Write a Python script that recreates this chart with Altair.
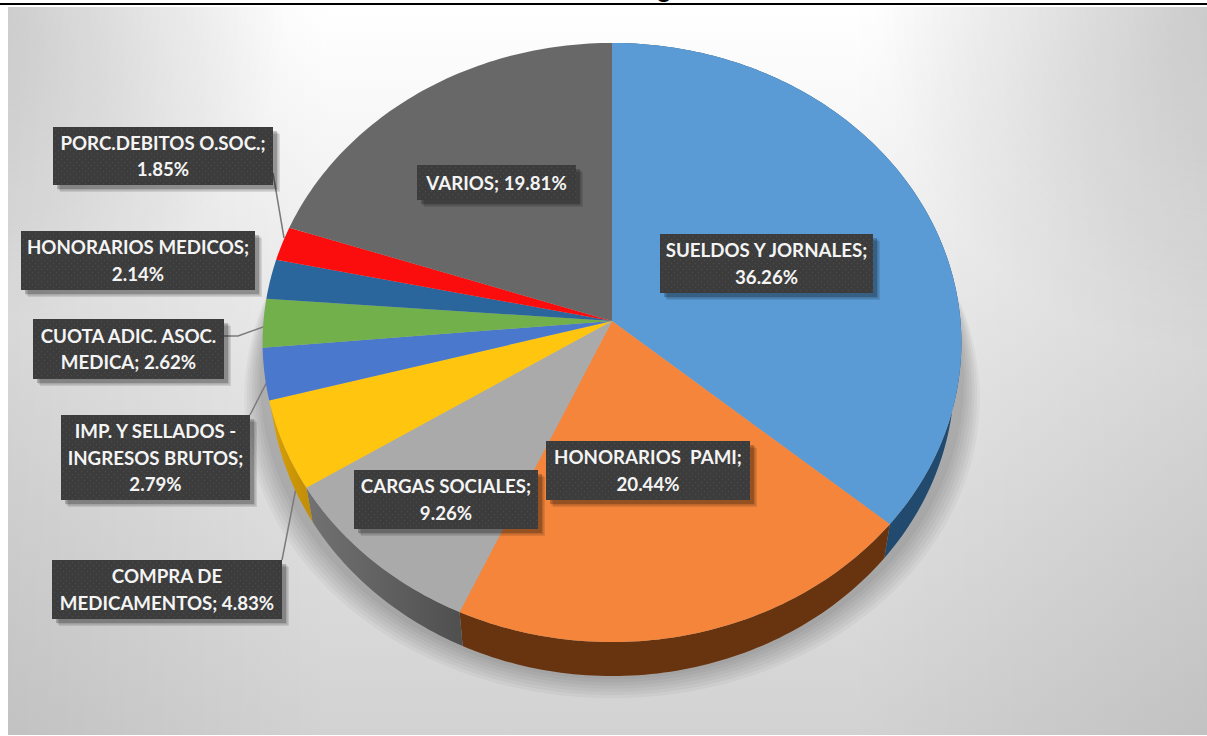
import math
import altair as alt
import pandas as pd

# Expense shares, clockwise from twelve o'clock
categories = ["SUELDOS Y JORNALES", "HONORARIOS  PAMI", "CARGAS SOCIALES", "COMPRA DE MEDICAMENTOS",
              "IMP. Y SELLADOS - INGRESOS BRUTOS", "CUOTA ADIC. ASOC. MEDICA", "HONORARIOS MEDICOS",
              "PORC.DEBITOS O.SOC.", "VARIOS"]
shares = [36.26, 20.44, 9.26, 4.83, 2.79, 2.62, 2.14, 1.85, 19.81]
face_colors = ["#5b9bd5", "#f4853a", "#aaaaaa", "#ffc50f", "#4a78cc", "#72b04b", "#2a659c", "#fb0d0d", "#686868"]

# Wrapped callout text for each slice
label_lines = [
    ["SUELDOS Y JORNALES;", "36.26%"],
    ["HONORARIOS\u00a0\u00a0PAMI;", "20.44%"],
    ["CARGAS SOCIALES;", "9.26%"],
    ["COMPRA DE", "MEDICAMENTOS; 4.83%"],
    ["IMP. Y SELLADOS -", "INGRESOS BRUTOS;", "2.79%"],
    ["CUOTA ADIC. ASOC.", "MEDICA; 2.62%"],
    ["HONORARIOS MEDICOS;", "2.14%"],
    ["PORC.DEBITOS O.SOC.;", "1.85%"],
    ["VARIOS; 19.81%"],
]
# Callout boxes: left, right, top, bottom
label_boxes = [
    (660, 873, 234, 293), (546, 750, 441, 500), (354, 538, 470, 529), (52, 282, 560, 619),
    (61, 250, 415, 500), (33, 224, 319, 379), (21, 255, 231, 290), (53, 273, 127, 185), (417, 576, 165, 200),
]
leader_paths = [
    [(273, 173), (284, 238)],
    [(224, 336), (238, 336), (266, 326)],
    [(250, 415), (272, 372)],
    [(282, 560), (296, 488)],
]

W, H = 1207, 736
CX, CY = 612.0, 321.0
RX, RY, TILT = 348.5, 298.0, 0.0718
DEPTH, RIM_SHRINK = 34.0, 0.98
PROJ = dict(type="identity", scale=1, translate=[0, 0])


def rim(frac):
    # Point on the tilted pie's edge at a clockwise fraction of the full turn
    a = 2 * math.pi * frac
    u, v = math.sin(a), math.cos(a)
    d = 1 + TILT * v
    return CX + RX * u / d, CY - RY * v / d


def lower(p):
    return CX + (p[0] - CX) * RIM_SHRINK, p[1] + DEPTH


def arc(f0, f1):
    n = max(2, int((f1 - f0) * 360))
    return [rim(f0 + (f1 - f0) * i / n) for i in range(n + 1)]


def feature(points, **props):
    ring = [list(p) for p in points]
    if ring[0] != ring[-1]:
        ring.append(ring[0])
    return {"type": "Feature", "properties": props, "geometry": {"type": "Polygon", "coordinates": [ring]}}


def fade(direction, *colors):
    # Evenly spaced linear gradient, horizontal or vertical
    x2, y2 = (1, 0) if direction == "h" else (0, 1)
    stops = [alt.GradientStop(offset=i / (len(colors) - 1), color=c) for i, c in enumerate(colors)]
    return alt.LinearGradient(gradient="linear", stops=stops, x1=0, x2=x2, y1=0, y2=y2)


def corner_glow(cx, cy, reach, shade):
    # Radial shade that dies away from one corner of its rectangle
    stops = [alt.GradientStop(offset=0, color=shade), alt.GradientStop(offset=1, color="rgba(0,0,0,0)")]
    return alt.RadialGradient(gradient="radial", stops=stops, x1=cx, y1=cy, r1=0, x2=cx, y2=cy, r2=reach)


x_px = alt.Scale(domain=[0, W], range=[0, W])
y_px = alt.Scale(domain=[0, H], range=[0, H])


def X(f):
    return alt.X(f, type="quantitative", scale=x_px, axis=None)


def Y(f):
    return alt.Y(f, type="quantitative", scale=y_px, axis=None)


def rect_enc():
    return dict(x=X("x0"), x2="x1", y=Y("y0"), y2="y1")


layers = []

# Page furniture: the panel with its soft gradient, the heading rule, the clipped heading
panel = pd.DataFrame({"x0": [8], "x1": [W], "y0": [7], "y1": [735]})
layers.append(alt.Chart(panel).mark_rect(color=fade("v", "#ffffff", "#efefef", "#e0e0e0", "#d2d2d2")).encode(**rect_enc()))
for x0, x1, left_shade, right_shade in [(8, 330, "rgba(0,0,0,0.08)", "rgba(0,0,0,0)"),
                                        (850, W, "rgba(0,0,0,0)", "rgba(0,0,0,0.08)")]:
    band = pd.DataFrame({"x0": [x0], "x1": [x1], "y0": [7], "y1": [735]})
    layers.append(alt.Chart(band).mark_rect(color=fade("h", left_shade, right_shade)).encode(**rect_enc()))
for x0, x1, cx, reach in [(8, 330, 0, 0.8), (850, W, 1, 0.88)]:
    corner = pd.DataFrame({"x0": [x0], "x1": [x1], "y0": [7], "y1": [400]})
    layers.append(alt.Chart(corner).mark_rect(color=corner_glow(cx, 0, reach, "rgba(0,0,0,0.14)")).encode(**rect_enc()))

layers.append(alt.Chart(pd.DataFrame({"x0": [0], "x1": [W], "y0": [3], "y1": [5]})).mark_rect(color="#000000")
              .encode(**rect_enc()))
layers.append(alt.Chart(pd.DataFrame({"x": [664], "y": [-3], "t": ["g"]}))
              .mark_text(font="Liberation Sans", fontWeight="bold", fontSize=26, color="#000000", baseline="alphabetic")
              .encode(x=X("x"), y=Y("y"), text="t:N"))

# Soft shadow under the pie, built up from widening translucent outlines
outline = arc(0, 1)
for i in range(7):
    sx = 1.0 + 0.0075 * (i + 1)
    pts = [(CX + (p[0] - CX) * sx, p[1] + DEPTH + 3 + 3.2 * i) for p in outline]
    layers.append(alt.Chart(alt.Data(values=[feature(pts)])).mark_geoshape(
        fill="#000000", fillOpacity=0.035, strokeWidth=0).project(**PROJ))

# Leader lines from the outer callouts to their slices
leader_rows = [{"id": k, "i": i, "x": p[0], "y": p[1]} for k, path in enumerate(leader_paths) for i, p in enumerate(path)]
layers.append(alt.Chart(pd.DataFrame(leader_rows)).mark_line(color="#7b7b7b", strokeWidth=1.5)
              .encode(x=X("x"), y=Y("y"), detail="id:N", order="i:Q"))

# Extruded side wall and the top face
bounds = [0.0]
for s in shares:
    bounds.append(bounds[-1] + s / sum(shares))

side_fills = [
    ("#224a6e", "#224a6e", 0), ("#683410", "#683410", 1),
    ("#4f4f4f", "#727272", 2), ("#c08c08", "#d9a005", 3),
]
for a, b, idx in side_fills:
    top = arc(bounds[idx], bounds[idx + 1])
    wall = top + [lower(p) for p in reversed(top)]
    layers.append(alt.Chart(alt.Data(values=[feature(wall)])).mark_geoshape(
        fill=fade("h", b, a), strokeWidth=0).project(**PROJ))

faces = [feature([(CX, CY)] + arc(bounds[i], bounds[i + 1]), name=categories[i], color=face_colors[i])
         for i in range(len(shares))]
layers.append(alt.Chart(alt.Data(values=faces)).mark_geoshape(strokeWidth=0).encode(
    fill=alt.Fill("properties.color:N", scale=None)).project(**PROJ))

# Callout boxes: shadow, body, dotted texture
boxes = pd.DataFrame(label_boxes, columns=["x0", "x1", "y0", "y1"])
for off, alpha in [(7, 0.10), (5.5, 0.14), (4, 0.20)]:
    sh = boxes.assign(x0=boxes.x0 + off, x1=boxes.x1 + off, y0=boxes.y0 + off, y1=boxes.y1 + off)
    layers.append(alt.Chart(sh).mark_rect(color="#000000", opacity=alpha).encode(**rect_enc()))
layers.append(alt.Chart(boxes).mark_rect(color="#3c3c3c").encode(**rect_enc()))

dots = []
for x0, x1, y0, y1 in label_boxes:
    row, yy = 0, y0 + 2.5
    while yy < y1:
        xx = x0 + 2.5 + (row % 2) * 3
        while xx < x1:
            dots.append({"x": xx, "y": yy})
            xx += 6
        yy += 3
        row += 1
layers.append(alt.Chart(pd.DataFrame(dots)).mark_point(shape="square", filled=True, size=2.2, color="#5a5a5a", opacity=0.5)
              .encode(x=X("x"), y=Y("y")))

# Callout text, one row per wrapped line
text_rows = []
for lines, (x0, x1, y0, y1) in zip(label_lines, label_boxes):
    mid = (y0 + y1) / 2 + 1
    for j, line in enumerate(lines):
        text_rows.append({"x": (x0 + x1) / 2, "y": mid + (j - (len(lines) - 1) / 2) * 26.3, "t": line})
layers.append(alt.Chart(pd.DataFrame(text_rows))
              .mark_text(font="Lato", fontWeight="bold", fontSize=18.7, color="#f4f4f4", baseline="middle", align="center")
              .encode(x=X("x"), y=Y("y"), text="t:N"))

chart = alt.layer(*layers).properties(
    width=W, height=H, padding=0, autosize=alt.AutoSizeParams(type="none"), background="#ffffff"
).configure_view(stroke=None)

chart.save("out.html", embed_options={"renderer": "svg", "actions": False})
